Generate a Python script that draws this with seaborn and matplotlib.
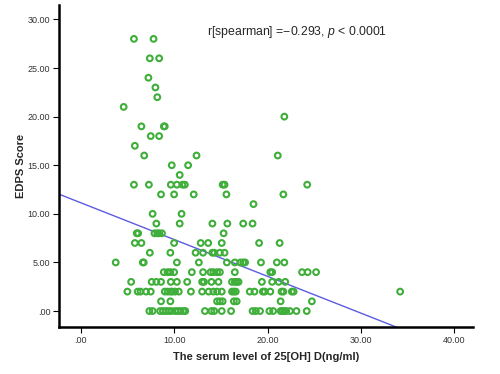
import matplotlib
matplotlib.use("Agg")
import matplotlib.pyplot as plt
import seaborn as sns
import pandas as pd

# =========================
# DATA (serum 25[OH]D values grouped by EDPS score)
# =========================

edps_0 = [7.35, 7.7, 8.5, 8.8, 9.1, 9.4, 9.7, 10.1, 10.4, 10.7, 11.0, 11.2, 13.3, 14.0, 14.3,
          15.1, 16.1, 18.4, 18.75, 19.2, 20.2, 20.6, 21.4, 21.6, 21.8, 22.0, 22.4, 23.1, 24.2]
edps_1 = [8.6, 9.6, 14.6, 14.9, 15.2, 16.4, 16.7, 21.4, 24.75]
edps_2 = [5.0, 6.1, 6.4, 7.0, 7.5, 9.0, 9.3, 9.6, 9.8, 10.1, 10.5, 11.8, 13.0, 13.7, 14.2,
          14.6, 15.1, 16.2, 16.4, 16.6, 18.1, 18.6, 19.5, 19.7, 20.3, 21.5, 21.7, 22.6, 22.8, 34.2]
edps_3 = [5.4, 7.6, 8.1, 8.6, 9.65, 10.3, 11.4, 13.0, 13.2, 14.0, 14.75, 16.2, 16.5, 16.7,
          16.9, 19.4, 20.5, 21.2, 21.9]
edps_4 = [8.9, 9.3, 9.6, 10.0, 11.9, 13.1, 13.9, 14.2, 14.6, 14.9, 16.5, 20.3, 20.5, 23.7,
          24.3, 25.2]
edps_5 = [3.75, 6.65, 6.75, 10.3, 12.65, 15.65, 16.5, 17.1, 17.4, 17.6, 19.3, 21.0, 21.8]
edps_6 = [7.4, 9.6, 12.3, 13.1, 14.1, 14.3, 14.9, 15.4]
edps_7 = [5.8, 6.5, 10.0, 12.85, 13.65, 15.1, 19.1, 21.3]
edps_8 = [6.0, 6.15, 7.9, 8.2, 8.4, 8.7, 15.3]
edps_9 = [8.1, 10.6, 14.1, 15.7, 17.4, 18.4]
edps_10 = [7.7, 10.8]
edps_11 = [18.5]
edps_12 = [8.6, 10.0, 12.1, 15.6, 21.7]
edps_13 = [5.7, 7.3, 9.65, 10.3, 10.9, 11.15, 15.2, 15.4, 24.25]
edps_14 = [10.6]
edps_15 = [9.75, 11.5]
edps_16 = [6.8, 12.4, 21.1]
edps_17 = [5.8]
edps_18 = [7.5, 8.4]
edps_19 = [6.5, 8.9, 9.0]
edps_20 = [21.8]
edps_21 = [4.6]
edps_22 = [8.2]
edps_23 = [8.0]
edps_24 = [7.25]
edps_26 = [7.4, 8.4]
edps_28 = [5.7, 7.8]

score_levels = [0, 1, 2, 3, 4, 5, 6, 7, 8, 9, 10, 11, 12, 13, 14, 15, 16, 17, 18, 19,
                20, 21, 22, 23, 24, 26, 28]
serum_groups = [edps_0, edps_1, edps_2, edps_3, edps_4, edps_5, edps_6, edps_7, edps_8,
                edps_9, edps_10, edps_11, edps_12, edps_13, edps_14, edps_15, edps_16,
                edps_17, edps_18, edps_19, edps_20, edps_21, edps_22, edps_23, edps_24,
                edps_26, edps_28]

x_ticks = [0, 10, 20, 30, 40]
y_ticks = [0, 5, 10, 15, 20, 25, 30]

rows = []
for score, values in zip(score_levels, serum_groups):
    for v in values:
        rows.append({"serum": v, "edps": score})
df = pd.DataFrame(rows)

# =========================
# STYLE
# =========================

sns.set_style("white")
plt.rcParams["font.family"] = ["Liberation Sans", "DejaVu Sans"]
plt.rcParams["mathtext.fontset"] = "custom"
plt.rcParams["mathtext.rm"] = "Liberation Sans"
plt.rcParams["mathtext.it"] = "Liberation Sans:italic"


def spss_fmt(v):
    s = f"{v:.2f}"
    return s[1:] if s.startswith("0") else s


# =========================
# PLOT
# =========================

fig = plt.figure(figsize=(5, 3.74), dpi=100)
ax = fig.add_axes([0.1186, 0.1265, 0.8274, 0.8605])

ax.set_xlim(-2.29, 42.0)
ax.set_ylim(-1.61, 31.5)

sns.scatterplot(data=df, x="serum", y="edps", ax=ax,
                facecolor="none", edgecolor="#3fae3a", linewidth=1.5, s=17,
                zorder=3)

sns.regplot(data=df, x="serum", y="edps", ax=ax, scatter=False, ci=None,
            truncate=False, line_kws={"color": "#5c5ce0", "linewidth": 1.0})

ax.set_xlim(-2.29, 42.0)
ax.set_ylim(-1.61, 31.5)

ax.set_xticks(x_ticks)
ax.set_xticklabels([spss_fmt(v) for v in x_ticks])
ax.set_yticks(y_ticks)
ax.set_yticklabels([spss_fmt(v) for v in y_ticks])
ax.tick_params(axis="both", direction="out", length=4, width=0.8,
               labelsize=6.5, colors="black", labelcolor="#333333", pad=2.5,
               bottom=True, left=True)

sns.despine(ax=ax)
ax.spines["left"].set_linewidth(1.8)
ax.spines["bottom"].set_linewidth(1.8)
ax.spines["left"].set_color("black")
ax.spines["bottom"].set_color("black")

ax.set_xlabel("The serum level of 25[OH] D(ng/ml)", fontsize=8, fontweight="bold",
              labelpad=5)
ax.set_ylabel("EDPS Score", fontsize=8, fontweight="bold", labelpad=1)

ax.text(13.5, 28.7, "r[spearman] =\u22120.293, $p$ < 0.0001", fontsize=8.8,
        ha="left", va="center")

fig.savefig("out.png", dpi=100)
